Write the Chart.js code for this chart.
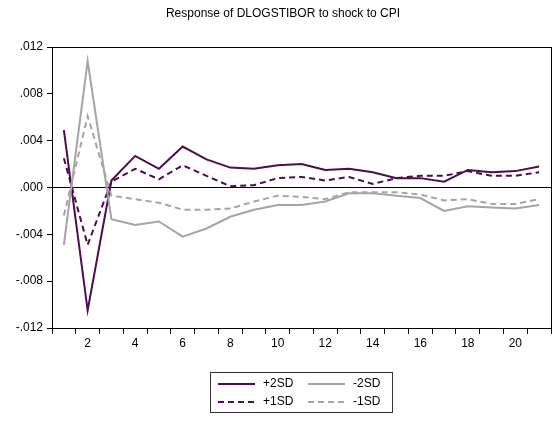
<!DOCTYPE html>
<html>
<head>
<meta charset="utf-8">
<script src="https://cdn.jsdelivr.net/npm/chart.js@4"></script>
<style>
  body { margin: 0; background: #fff; }
  #wrap { position: relative; width: 555px; height: 421px; }
  #title { position: absolute; top: 6px; left: 0; width: 566px; text-align: center;
           font: 12px "Liberation Sans", Arial, sans-serif; color: #000; }
</style>
</head>
<body>
<div id="wrap">
  <div id="title">Response of DLOGSTIBOR to shock to CPI</div>
  <canvas id="irf" width="555" height="421"></canvas>
</div>
<script>
// periods
const periods = [1,2,3,4,5,6,7,8,9,10,11,12,13,14,15,16,17,18,19,20,21];

// bands
const plus2SD  = [0.0049,-0.0105,0.0006,0.0027,0.0016,0.0035,0.0024,0.0017,0.0016,0.0019,0.0020,0.0015,0.0016,0.0013,0.0008,0.0008,0.0005,0.0015,0.0013,0.0014,0.0018];
const plus1SD  = [0.0025,-0.0049,0.0005,0.0016,0.0007,0.0019,0.0010,0.0001,0.0002,0.0008,0.0009,0.0006,0.0009,0.0003,0.0008,0.0010,0.0010,0.0014,0.0010,0.0010,0.0013];
const minus2SD = [-0.0049,0.0108,-0.0027,-0.0032,-0.0029,-0.0042,-0.0035,-0.0025,-0.0019,-0.0015,-0.0015,-0.0012,-0.0005,-0.0005,-0.0007,-0.0009,-0.0020,-0.0016,-0.0017,-0.0018,-0.0015];
const minus1SD = [-0.0024,0.0061,-0.0007,-0.0010,-0.0013,-0.0019,-0.0019,-0.0018,-0.0012,-0.0007,-0.0008,-0.0010,-0.0004,-0.0004,-0.0004,-0.0006,-0.0011,-0.0010,-0.0014,-0.0014,-0.0010];

const yTicks = [0.012, 0.008, 0.004, 0, -0.004, -0.008, -0.012];

const PURPLE = "#4d0c4d";
const GREY = "#a5a5a5";
const FONT = { family: '"Liberation Sans", Arial, sans-serif', size: 12 };

// frame round the plot + legend box under it
const framePlugin = {
    id: "frame",
    afterDraw(chart) {
        const { ctx, chartArea: a } = chart;
        ctx.save();
        ctx.strokeStyle = "#000";
        ctx.lineWidth = 1;
        ctx.strokeRect(a.left + 0.5, a.top + 0.5, a.right - a.left, a.bottom - a.top);

        // legend
        ctx.strokeStyle = "#333";
        ctx.strokeRect(210.5, 372.5, 182, 40);
        const items = [
            { text: "+2SD", color: PURPLE, dash: [], x: 218, y: 384 },
            { text: "-2SD", color: GREY, dash: [], x: 308, y: 384 },
            { text: "+1SD", color: PURPLE, dash: [6, 4], x: 218, y: 402 },
            { text: "-1SD", color: GREY, dash: [6, 4], x: 308, y: 402 },
        ];
        ctx.font = '12px "Liberation Sans", Arial, sans-serif';
        ctx.textBaseline = "middle";
        items.forEach(it => {
            ctx.beginPath();
            ctx.setLineDash(it.dash);
            ctx.strokeStyle = it.color;
            ctx.lineWidth = 2;
            ctx.moveTo(it.x, it.y);
            ctx.lineTo(it.x + 37, it.y);
            ctx.stroke();
            ctx.setLineDash([]);
            ctx.fillStyle = "#000";
            ctx.fillText(it.text, it.x + 45, it.y);
        });
        ctx.restore();
    }
};

function series(label, data, color, dash) {
    return {
        label: label,
        data: data,
        borderColor: color,
        borderWidth: 2,
        borderDash: dash,
        pointRadius: 0,
        tension: 0,
        fill: false,
    };
}

new Chart(document.getElementById("irf").getContext("2d"), {
    type: "line",
    data: {
        labels: periods,
        datasets: [
            series("-1SD", minus1SD, GREY, [6, 4]),
            series("-2SD", minus2SD, GREY, []),
            series("+1SD", plus1SD, PURPLE, [6, 4]),
            series("+2SD", plus2SD, PURPLE, []),
        ],
    },
    options: {
        responsive: false,
        animation: false,
        layout: { padding: { left: 0, top: 47, right: 4, bottom: 0 } },
        plugins: { legend: { display: false }, tooltip: { enabled: false } },
        scales: {
            x: {
                type: "category",
                offset: true,
                afterFit(scale) { scale.height = 93; },
                grid: {
                    offset: true,
                    drawOnChartArea: false,
                    tickLength: 6,
                    tickColor: "#000",
                },
                border: { color: "#000" },
                ticks: {
                    autoSkip: false,
                    maxRotation: 0,
                    padding: 2,
                    color: "#000",
                    font: FONT,
                    callback(val) {
                        const p = this.getLabelForValue(val);
                        return p % 2 === 0 ? String(p) : "";
                    },
                },
            },
            y: {
                min: -0.012,
                max: 0.012,
                afterFit(scale) { scale.width = 52; },
                afterBuildTicks(scale) {
                    scale.ticks = yTicks.map(v => ({ value: v }));
                },
                grid: {
                    color: c => (c.tick && Math.abs(c.tick.value) < 1e-9 ? "#000" : "rgba(0,0,0,0)"),
                    tickColor: "#000",
                    tickLength: 5,
                    lineWidth: 1,
                },
                border: { color: "#000" },
                ticks: {
                    padding: 4,
                    color: "#000",
                    font: FONT,
                    callback(v) {
                        const s = Math.abs(v).toFixed(3).replace(/^0/, "");
                        return (v < -1e-9 ? "-" : "") + s;
                    },
                },
            },
        },
    },
    plugins: [framePlugin],
});
</script>
</body>
</html>
